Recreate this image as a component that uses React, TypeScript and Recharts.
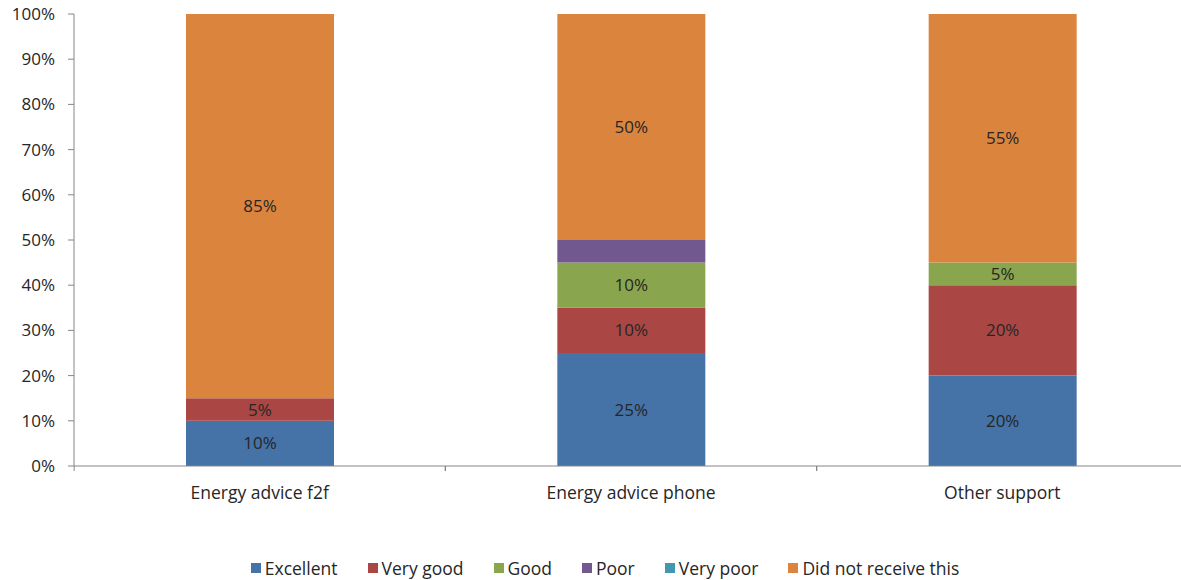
import { BarChart, Bar, XAxis, YAxis, Legend, LabelList } from "recharts";

// Support rating shares per channel, in percent
const categories = ["Energy advice f2f", "Energy advice phone", "Other support"];
const excellent = [10, 25, 20];
const veryGood = [5, 10, 20];
const good = [0, 10, 5];
const poor = [0, 5, 0];
const veryPoor = [0, 0, 0];
const didNotReceive = [85, 50, 55];
const yTicks = [0, 10, 20, 30, 40, 50, 60, 70, 80, 90, 100];

const series = [
    { key: "excellent", name: "Excellent", color: "#4572A7", labels: true },
    { key: "veryGood", name: "Very good", color: "#AA4643", labels: true },
    { key: "good", name: "Good", color: "#89A54E", labels: true },
    { key: "poor", name: "Poor", color: "#71588F", labels: false },
    { key: "veryPoor", name: "Very poor", color: "#4198AF", labels: false },
    { key: "didNotReceive", name: "Did not receive this", color: "#DB843D", labels: true },
];

const data = categories.map((name, i) => ({
    name,
    excellent: excellent[i],
    veryGood: veryGood[i],
    good: good[i],
    poor: poor[i],
    veryPoor: veryPoor[i],
    didNotReceive: didNotReceive[i],
}));

const FONT = "'Open Sans', 'Noto Sans', sans-serif";
const AXIS = "#868686";
const TEXT = "#262626";
const CHART_W = 1188;
const PLOT_LEFT = 74;
const BAND = (CHART_W - PLOT_LEFT - 1) / categories.length;

function CategoryTick({ x, y, payload }: any) {
    const left = x - BAND / 2;
    return (
        <g>
            <line x1={left} x2={left} y1={y} y2={y + 5} stroke={AXIS} />
            <line x1={left + BAND} x2={left + BAND} y1={y} y2={y + 5} stroke={AXIS} />
            <text
                x={x}
                y={y + 28}
                textAnchor="middle"
                dominantBaseline="middle"
                fill={TEXT}
                fontSize={17.5}
                fontFamily={FONT}
            >
                {payload.value}
            </text>
        </g>
    );
}

function RatingLegend() {
    return (
        <div
            style={{
                display: "flex",
                justifyContent: "center",
                alignItems: "center",
                gap: 30,
                height: 24,
                fontFamily: FONT,
                fontSize: 17.5,
                color: TEXT,
                paddingLeft: 22,
            }}
        >
            {series.map((s) => (
                <div key={s.key} style={{ display: "flex", alignItems: "center", gap: 4 }}>
                    <span style={{ width: 10, height: 10, background: s.color, display: "inline-block" }} />
                    <span>{s.name}</span>
                </div>
            ))}
        </div>
    );
}

const hideZero = (v: any) => (Number(v) > 0 ? `${v}%` : "");

export default function App() {
    return (
        <div style={{ position: "absolute", left: 0, top: 0, width: 1181, height: 580, overflow: "hidden", background: "#fff" }}>
            <BarChart
                width={CHART_W}
                height={580}
                data={data}
                margin={{ top: 14, right: 0, bottom: 0, left: 0 }}
                barSize={148}
            >
                <XAxis
                    dataKey="name"
                    height={90}
                    stroke={AXIS}
                    tickLine={false}
                    tickSize={0}
                    tickMargin={0}
                    tick={<CategoryTick />}
                    interval={0}
                />
                <YAxis
                    width={PLOT_LEFT}
                    domain={[0, 100]}
                    ticks={yTicks}
                    tickFormatter={(v) => `${v}%`}
                    stroke={AXIS}
                    tickSize={6}
                    tickMargin={13}
                    tick={{ fill: TEXT, fontSize: 17, fontFamily: FONT }}
                />
                <Legend verticalAlign="bottom" content={<RatingLegend />} />
                {series.map((s) => (
                    <Bar
                        key={s.key}
                        dataKey={s.key}
                        name={s.name}
                        stackId="rating"
                        fill={s.color}
                        isAnimationActive={false}
                    >
                        {s.labels && (
                            <LabelList
                                dataKey={s.key}
                                position="center"
                                formatter={hideZero}
                                fill={TEXT}
                                fontSize={17}
                                fontFamily={FONT}
                            />
                        )}
                    </Bar>
                ))}
            </BarChart>
        </div>
    );
}
